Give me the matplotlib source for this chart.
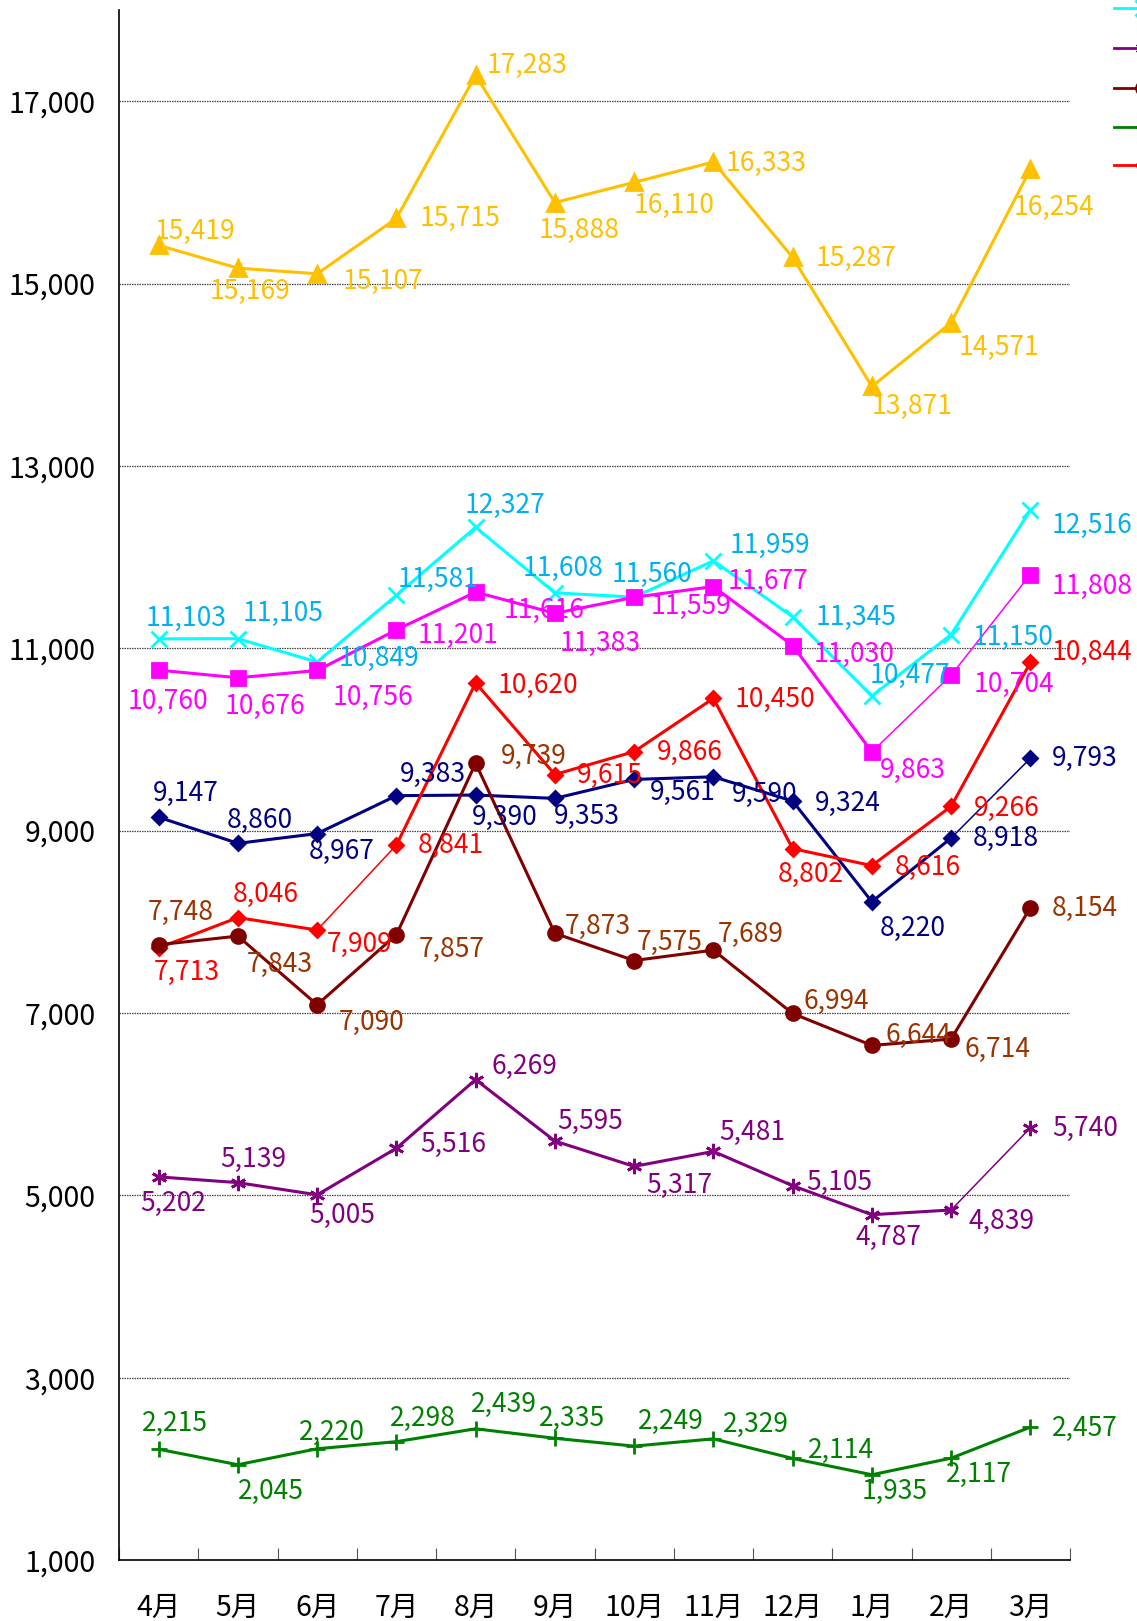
import matplotlib
matplotlib.use("Agg")
import matplotlib.pyplot as plt
from matplotlib.lines import Line2D
from matplotlib.ticker import FixedLocator, NullFormatter

plt.rcParams['font.family'] = ['Noto Sans CJK JP', 'DejaVu Sans']

months = ["4月", "5月", "6月", "7月", "8月", "9月", "10月", "11月", "12月", "1月", "2月", "3月"]

gold = [15419, 15169, 15107, 15715, 17283, 15888, 16110, 16333, 15287, 13871, 14571, 16254]
cyan = [11103, 11105, 10849, 11581, 12327, 11608, 11560, 11959, 11345, 10477, 11150, 12516]
magenta = [10760, 10676, 10756, 11201, 11616, 11383, 11559, 11677, 11030, 9863, 10704, 11808]
navy = [9147, 8860, 8967, 9383, 9390, 9353, 9561, 9590, 9324, 8220, 8918, 9793]
red = [7713, 8046, 7909, 8841, 10620, 9615, 9866, 10450, 8802, 8616, 9266, 10844]
maroon = [7748, 7843, 7090, 7857, 9739, 7873, 7575, 7689, 6994, 6644, 6714, 8154]
purple = [5202, 5139, 5005, 5516, 6269, 5595, 5317, 5481, 5105, 4787, 4839, 5740]
green = [2215, 2045, 2220, 2298, 2439, 2335, 2249, 2329, 2114, 1935, 2117, 2457]

# label offsets (screen pixels, dx right, dy down)
off_gold = [(35,-13),(12,23),(64,7),(62,0),(50,-10),(23,27),(39,22),(51,1),(61,1),(39,19),(46,24),(23,37)]
off_cyan = [(27,-20),(44,-24),(60,-3),(40,-15),(28,-21),(8,-24),(17,-22),(55,-15),(61,1),(37,-20),(60,3),(60,15)]
off_mag = [(9,30),(26,28),(54,26),(60,5),(66,18),(44,29),(55,9),(53,-5),(59,9),(40,18),(61,9),(60,11)]
off_navy = [(26,-23),(21,-22),(24,17),(35,-21),(28,22),(31,17),(47,13),(50,17),(53,2),(40,26),(53,0),(53,0)]
off_red = [(27,24),(27,-22),(41,14),(53,0),(60,2),(53,1),(54,1),(60,1),(18,25),(54,2),(54,2),(60,-10)]
off_maroon = [(21,-31),(41,27),(53,17),(54,14),(56,-7),(42,-7),(34,-17),(36,-15),(42,-12),(45,-10),(45,10),(53,1)]
off_purple = [(14,26),(15,-22),(24,20),(55,-4),(47,-13),(34,-19),(44,18),(38,-18),(45,-3),(16,22),(49,11),(53,1)]
off_green = [(16,-25),(32,26),(14,-16),(26,-22),(27,-24),(17,-19),(36,-24),(41,-14),(47,-8),(22,16),(27,16),(53,1)]

# segments drawn thinner in the reference (index of segment start)
thin_red = [2]
thin_navy = [10]
thin_mag = [9, 10]
thin_purple = [10]

W, H = 1137, 1621
fig = plt.figure(figsize=(W/100, H/100), dpi=100)
ax = fig.add_axes([119/W, (H-1560)/H, (1070-119)/W, (1560-10)/H])

asterisk = (6, 2, 0)
series = [
    (gold, '#FFC000', '#FFC000', '^', 11, off_gold, []),
    (cyan, '#00FFFF', '#00B0F0', 'x', 11, off_cyan, []),
    (magenta, '#FF00FF', '#FF00FF', 's', 10, off_mag, thin_mag),
    (navy, '#000080', '#000080', 'D', 7, off_navy, thin_navy),
    (red, '#FF0000', '#FF0000', 'D', 7, off_red, thin_red),
    (maroon, '#800000', '#993300', 'o', 10, off_maroon, []),
    (purple, '#800080', '#800080', asterisk, 11, off_purple, thin_purple),
    (green, '#008000', '#008000', '+', 12, off_green, []),
]

x = list(range(len(months)))
sc = 1.034
for vals, lc, tc, mk, ms, offs, thin in series:
    for i in range(len(vals) - 1):
        ax.plot(x[i:i+2], vals[i:i+2], color=lc, lw=1.1 if i in thin else 2.2,
                zorder=3, solid_capstyle='round', clip_on=False)
    ax.plot(x, vals, ls='none', marker=mk, ms=ms, mew=2,
            mfc=lc, mec=lc, zorder=3, clip_on=False)
    for xi, v, (dx, dy) in zip(x, vals, offs):
        ax.annotate(f"{v:,}", (xi, v), xytext=(dx*sc, -dy*sc),
                    textcoords='offset pixels', ha='center', va='center',
                    color=tc, fontsize=19, zorder=4)

ax.set_xlim(-0.5, 11.5)
ax.set_ylim(1000, 18000)
ax.set_yticks(range(1000, 18000, 2000))
ax.set_yticklabels([f"{v:,}" for v in range(1000, 18000, 2000)], fontsize=20.5)
ax.tick_params(axis='y', length=0, pad=17)
for gv in range(3000, 18000, 2000):
    ax.axhline(gv, color='#444444', lw=0.9, ls=(0, (1.2, 0.8)), zorder=1)

ax.set_xticks(x)
ax.set_xticklabels(months, fontsize=20.5)
ax.tick_params(axis='x', which='major', length=0, pad=24)
ax.xaxis.set_minor_locator(FixedLocator([i + 0.5 for i in range(-1, 12)]))
ax.xaxis.set_minor_formatter(NullFormatter())
ax.tick_params(axis='x', which='minor', direction='in', length=9, width=0.8, color='#555555')

for s in ['top', 'right']:
    ax.spines[s].set_visible(False)
ax.spines['left'].set_linewidth(1.2)
ax.spines['bottom'].set_linewidth(1.2)

# legend fragments at the right edge (clipped by figure)
leg = [('#00FFFF', 'x', 11), ('#800080', asterisk, 11), ('#800000', 'o', 10),
       ('#008000', '+', 12), ('#FF0000', 'D', 7)]
ys = [8, 48, 88, 127, 165]
for (c, mk, ms), yy in zip(leg, ys):
    fig.add_artist(Line2D([1114/W, 1143/W], [1 - yy/H, 1 - yy/H], color=c, lw=2,
                          marker=mk, ms=ms, mew=2, mfc=c, mec=c, markevery=[1],
                          transform=fig.transFigure))

fig.savefig("out.png", dpi=100)
